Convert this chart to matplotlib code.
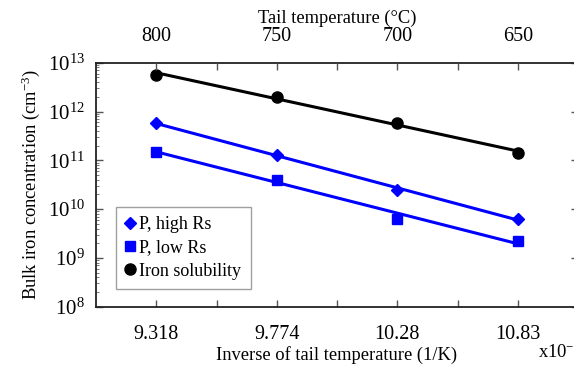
import numpy as np
import matplotlib
matplotlib.use("Agg")
import matplotlib.pyplot as plt

plt.rcParams['font.family'] = ['Liberation Serif', 'DejaVu Serif']
plt.rcParams['mathtext.fontset'] = 'custom'
plt.rcParams['mathtext.rm'] = 'Liberation Serif'
plt.rcParams['mathtext.it'] = 'Liberation Serif:italic'

inv_T_labels = ['9.318', '9.774', '10.28', '10.83']
tail_T_labels = ['800', '750', '700', '650']
p_high_rs = [5.8e11, 1.26e11, 2.5e10, 6.3e9]
p_low_rs = [1.5e11, 4.0e10, 6.3e9, 2.24e9]
fe_solubility = [5.7e12, 2.0e12, 5.7e11, 1.43e11]

pos = np.array([1, 3, 5, 7])

fig = plt.figure(figsize=(5.74, 3.68), dpi=100)
ax = fig.add_axes([96/574, 1 - 306.7/368, 482/574, (306.7 - 62.7)/368])

blue = '#0000ff'

def fit(y):
    c = np.polyfit(pos, np.log10(y), 1)
    return 10 ** np.polyval(c, pos)

ax.plot(pos, fit(fe_solubility), color='black', lw=2.2, zorder=2)
ax.plot(pos, fit(p_high_rs), color=blue, lw=2.2, zorder=2)
ax.plot(pos, fit(p_low_rs), color=blue, lw=2.2, zorder=2)
ax.plot(pos, p_high_rs, 'D', color=blue, ms=6, ls='none', label='P, high Rs', zorder=3)
ax.plot(pos, p_low_rs, 's', color=blue, ms=7.5, ls='none', label='P, low Rs', zorder=3)
ax.plot(pos, fe_solubility, 'o', color='black', ms=8, ls='none', label='Iron solubility', zorder=3)

ax.set_yscale('log')
ax.set_ylim(1e8, 1e13)
ax.set_xlim(0, 8)
ax.set_yticks([1e8, 1e9, 1e10, 1e11, 1e12, 1e13])
ax.set_yticklabels([r'$10^{8}$', r'$10^{9}$', r'$10^{10}$', r'$10^{11}$', r'$10^{12}$', r'$10^{13}$'], fontsize=15)

xt = list(range(1, 8))
xl = []
for i in xt:
    xl.append(inv_T_labels[(i - 1) // 2] if i % 2 == 1 else '')
ax.set_xticks(xt)
ax.set_xticklabels(xl, fontsize=14.5)
ax.tick_params(axis='x', which='major', direction='in', length=5, width=1, color='#555555', pad=13, top=False)
ax.tick_params(axis='y', which='major', direction='in', length=5, width=1, color='#555555', right=True, pad=8)
ax.tick_params(axis='y', which='minor', direction='in', length=2.5, width=0.7, color='#777777', right=True)

for s in ax.spines.values():
    s.set_linewidth(1.3)
    s.set_color('#222222')

ax.set_xlabel('Inverse of tail temperature (1/K)', fontsize=13.3, labelpad=2)
ax.set_ylabel('Bulk iron concentration (cm$^{-3}$)', fontsize=13.3, labelpad=4)

top = ax.twiny()
top.set_xlim(ax.get_xlim())
tl = []
for i in xt:
    tl.append(tail_T_labels[(i - 1) // 2] if i % 2 == 1 else '')
top.set_xticks(xt)
top.set_xticklabels(tl, fontsize=14.5)
top.tick_params(axis='x', direction='in', length=5, width=1, color='#555555', pad=12)
top.set_xlabel('Tail temperature (°C)', fontsize=13.3, labelpad=3)
for s in top.spines.values():
    s.set_visible(False)

fig.text(538/574, 1 - 352/368, r'x10$^{-4}$', fontsize=13.3, ha='left', va='center')

leg = ax.legend(loc='lower left', bbox_to_anchor=(20/482, 18/244), fontsize=13,
                frameon=True, fancybox=False, edgecolor='#888888', handlelength=0.6,
                handletextpad=0.2, borderpad=0.5, labelspacing=0.35, borderaxespad=0)
leg.get_frame().set_linewidth(1)

fig.savefig('out.png', dpi=100)
